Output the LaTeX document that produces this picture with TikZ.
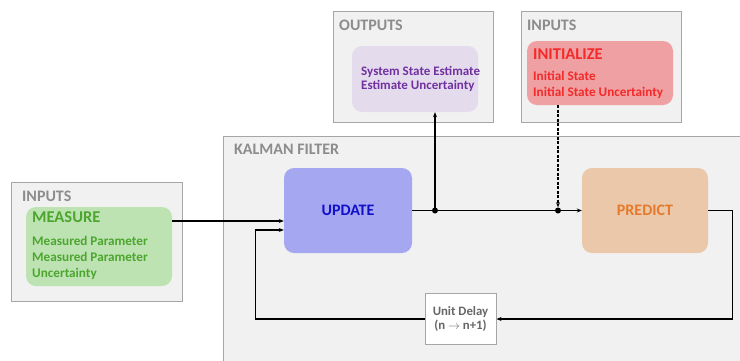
\documentclass[tikz,border=0pt]{standalone}
\usepackage{fontspec}
\setmainfont{Carlito}
\usetikzlibrary{arrows.meta}
\definecolor{groupfill}{HTML}{F1F1F1}
\definecolor{groupline}{HTML}{A6A6A6}
\definecolor{grouptext}{HTML}{8C8C8C}
\definecolor{measfill}{HTML}{BDE3B3}
\definecolor{meastext}{HTML}{4CA62E}
\definecolor{outfill}{HTML}{E4DCEC}
\definecolor{outtext}{HTML}{7030A0}
\definecolor{initfill}{HTML}{EEA0A2}
\definecolor{inittext}{HTML}{F42A2A}
\definecolor{updfill}{HTML}{A6A7F1}
\definecolor{updtext}{HTML}{1010C8}
\definecolor{predfill}{HTML}{EBC8AA}
\definecolor{predtext}{HTML}{E57A2C}
\definecolor{delaytext}{HTML}{666666}
\newcommand\boxfont[2]{\fontsize{#1}{#2}\selectfont\bfseries}
\begin{document}
\begin{tikzpicture}[x=1pt, y=-1pt,
        group/.style={draw=groupline, fill=groupfill, line width=1pt, inner sep=0pt},
        block/.style={rounded corners=10pt, inner sep=0pt},
        grouplabel/.style={text=grouptext, font=\boxfont{16}{18}, inner sep=0pt, anchor=west},
        wire/.style={line width=1.2pt, -{Stealth[length=5pt, width=4pt]}},
        junction/.style={circle, fill=black, inner sep=0pt, minimum size=6pt}
    ]
        \useasboundingbox (0,0) rectangle (740,360);
        % Group frames
        \node[group, anchor=north west, minimum width=530pt, minimum height=240pt] (kf) at (223,136) {};
        \node[group, minimum width=171pt, minimum height=119pt] (inmeas) at (96.5,241.5) {};
        \node[group, minimum width=160pt, minimum height=111pt] (outest) at (413,66.5) {};
        \node[group, minimum width=160pt, minimum height=111pt] (ininit) at (601,66.5) {};
        \node[grouplabel] (kftitle) at (234,149) {KALMAN FILTER};
        \node[grouplabel] (inmeastitle) at (22,196) {INPUTS};
        \node[grouplabel] (outesttitle) at (339,25) {OUTPUTS};
        \node[grouplabel] (ininittitle) at (527,25) {INPUTS};

        % Input and output blocks
        \node[block, fill=measfill, minimum width=146pt, minimum height=79pt] (measure) at (99,246.5) {};
        \node[text=meastext, font=\boxfont{16.5}{18}, inner sep=0pt, anchor=west] (measuretitle) at (32,217) {MEASURE};
        \node[text=meastext, font=\boxfont{13.2}{16}, inner sep=0pt, anchor=west, align=left] (measuretext) at (32,258)
            {Measured Parameter\\Measured Parameter\\Uncertainty};
        \node[block, fill=outfill, minimum width=126pt, minimum height=66pt] (estimate) at (415,79) {};
        \node[text=outtext, font=\boxfont{13}{14.5}, inner sep=0pt, anchor=west, align=left] (estimatetext) at (361,79)
            {System State Estimate\\Estimate Uncertainty};
        \node[block, fill=initfill, minimum width=146pt, minimum height=64pt] (init) at (600,73) {};
        \node[text=inittext, font=\boxfont{16.5}{18}, inner sep=0pt, anchor=west] (inittitle) at (533,54) {INITIALIZE};
        \node[text=inittext, font=\boxfont{13.2}{16}, inner sep=0pt, anchor=west, align=left] (inittext) at (533,85)
            {Initial State\\Initial State Uncertainty};

        % Filter blocks
        \node[block, fill=updfill, text=updtext, font=\boxfont{16}{18}, minimum width=128pt, minimum height=85pt] (upd) at (348,210.5) {UPDATE};
        \node[block, fill=predfill, text=predtext, font=\boxfont{16}{18}, minimum width=126pt, minimum height=85pt] (pred) at (645,210.5) {PREDICT};
        \node[draw=groupline, fill=white, line width=1pt, text=delaytext, font=\boxfont{12.8}{14}, align=center,
            minimum width=71pt, minimum height=51pt, inner sep=0pt] (delay) at (460.5,319) {Unit Delay\\(n $\rightarrow$ n+1)};

        % Connectors
        \coordinate (updin) at ([yshift=-10.5pt]upd.west);
        \coordinate (updfb) at ([yshift=-19.5pt]upd.west);
        \node[junction] (jout) at (435,210.5) {};
        \node[junction] (jinit) at (558,210.5) {};
        \draw[wire] (measure.east |- updin) -- (updin);
        \draw[wire] (upd.east) -- (pred.west);
        \draw[wire] (jout.center) -- (jout |- estimate.south);
        \draw[wire, dash pattern=on 3pt off 1.5pt] (jinit |- init.south) -- (jinit.north);
        \draw[wire] (pred.east) -- ++(24,0) |- (delay.east);
        \draw[wire] (delay.west) -| ([xshift=-28pt]updfb) -- (updfb);
    \end{tikzpicture}
\end{document}
